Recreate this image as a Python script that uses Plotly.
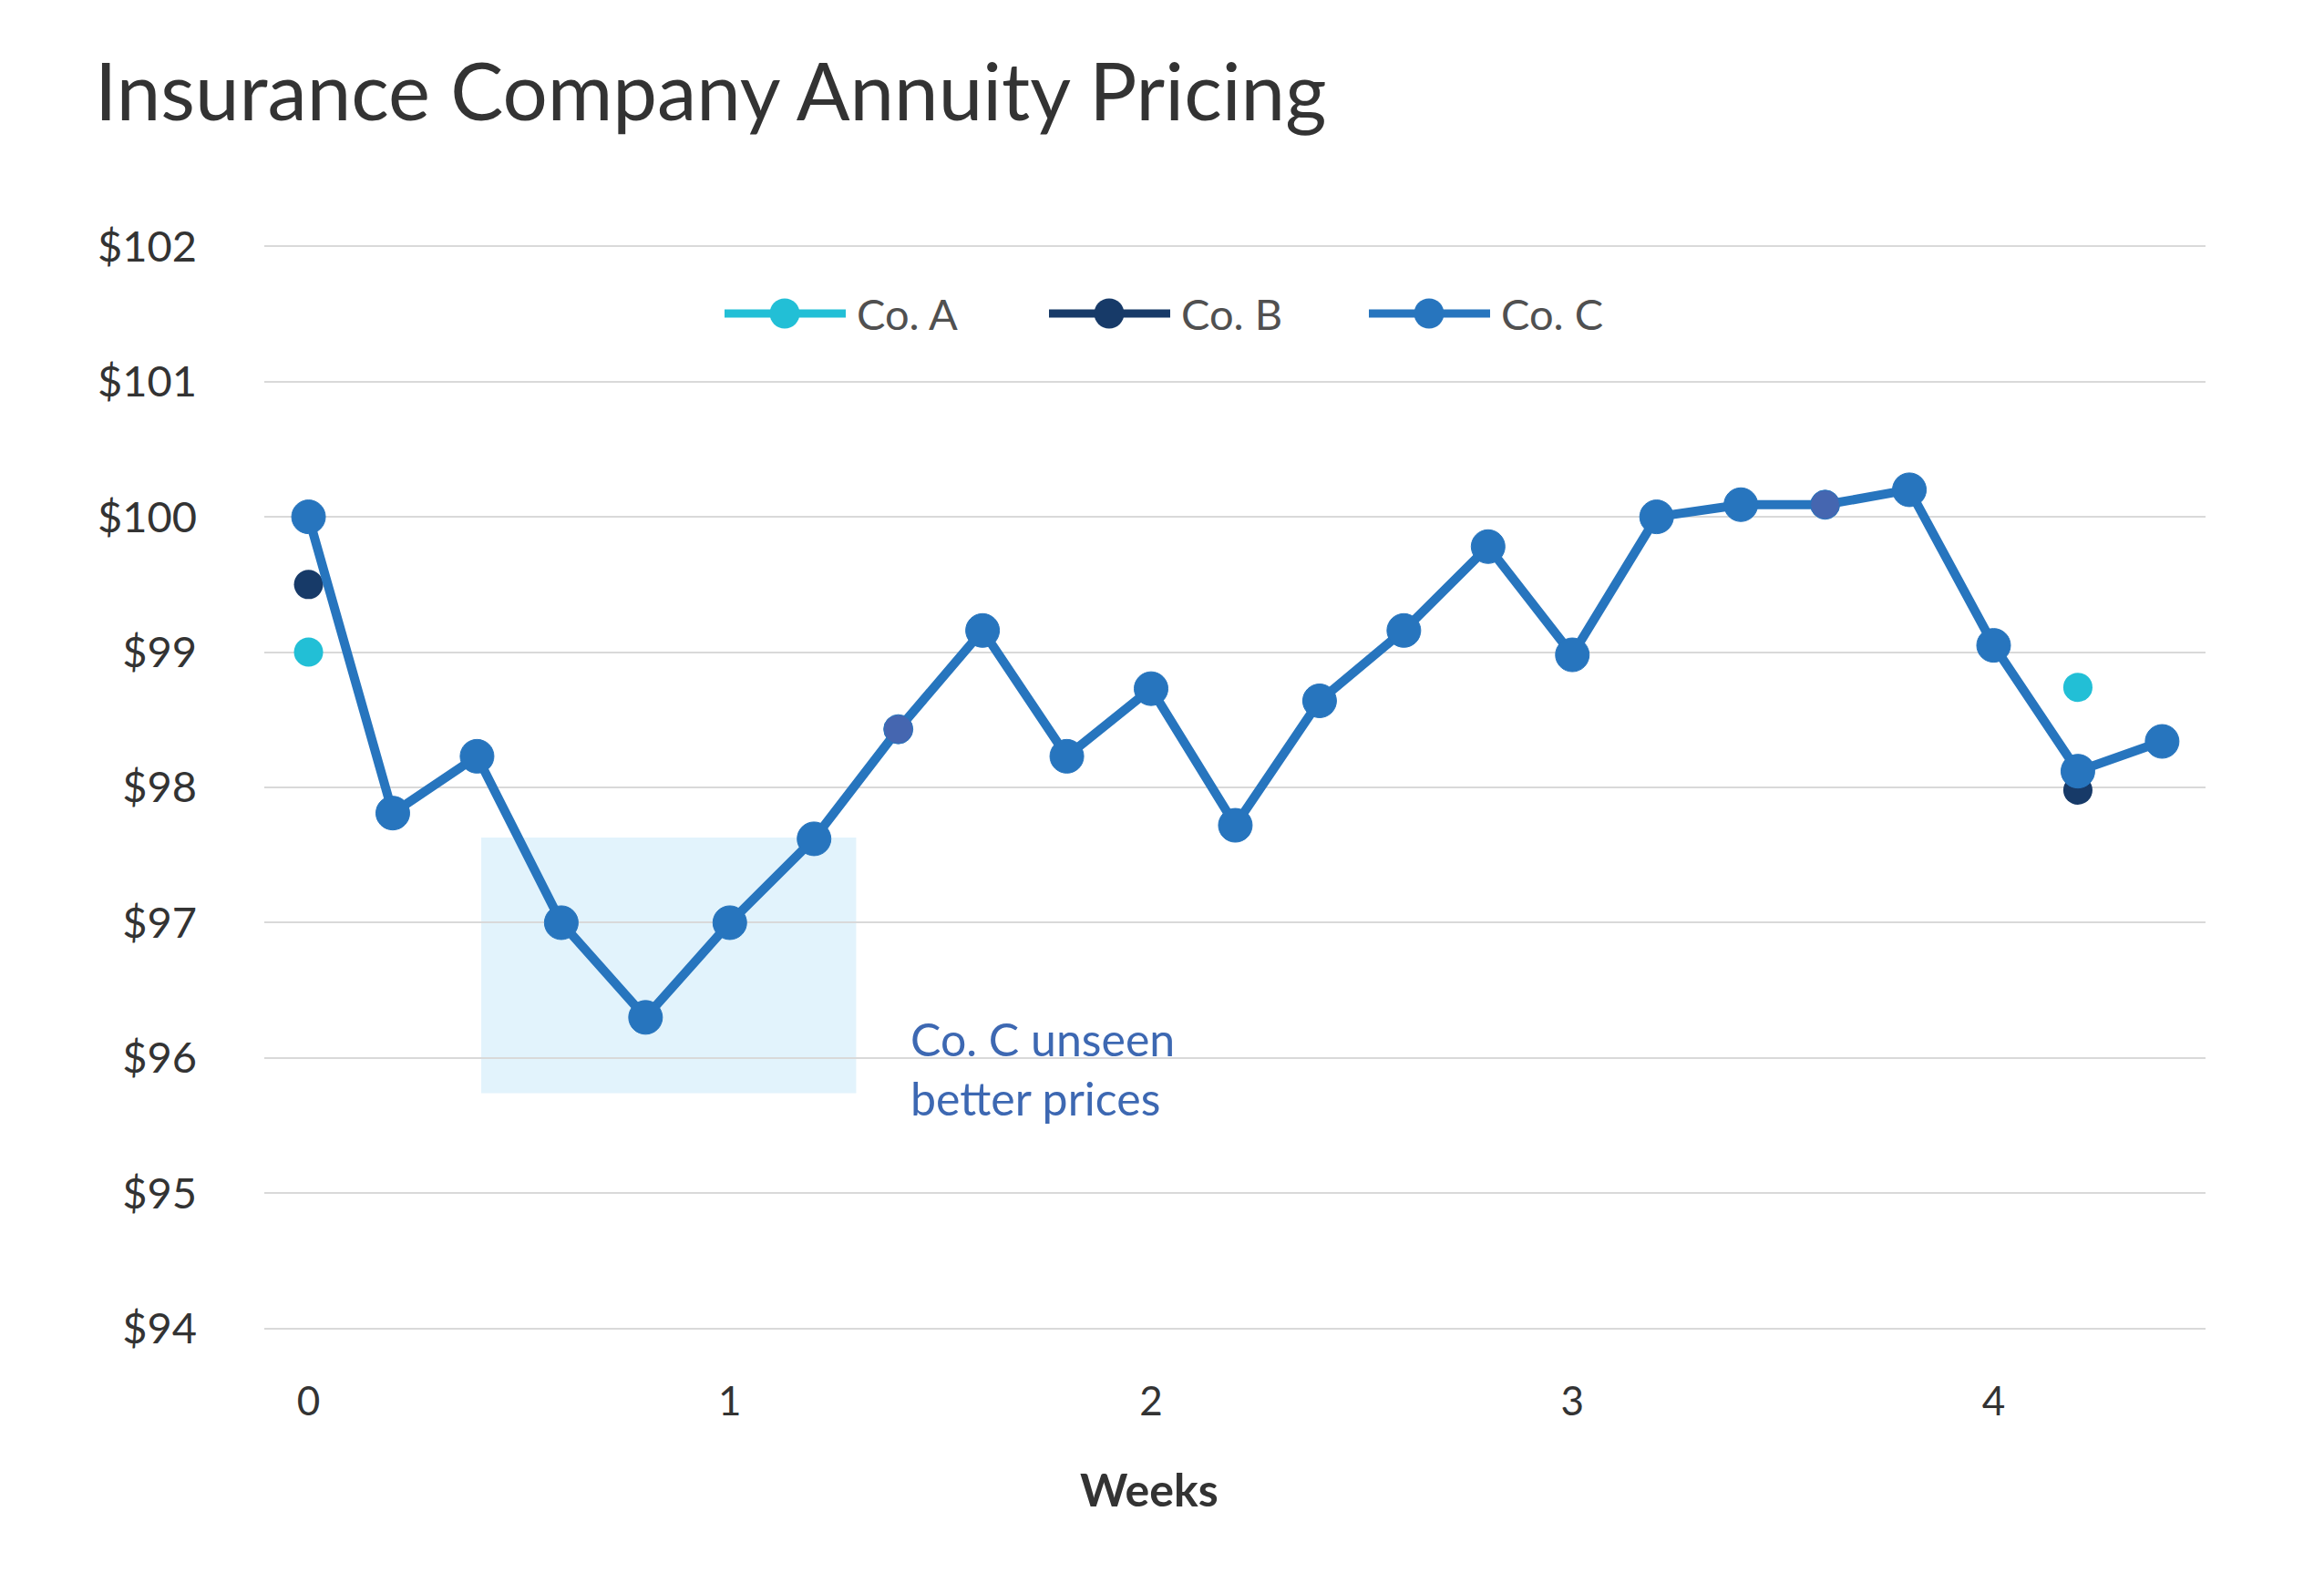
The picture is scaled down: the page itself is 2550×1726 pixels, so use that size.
import plotly.graph_objects as go

# ---------------- data ----------------
weeks = [0.0, 0.2, 0.4, 0.6, 0.8, 1.0, 1.2, 1.4, 1.6, 1.8, 2.0, 2.2,
         2.4, 2.6, 2.8, 3.0, 3.2, 3.4, 3.6, 3.8, 4.0, 4.2, 4.4]
co_c = [100.0, 97.81, 98.23, 97.0, 96.3, 97.0, 97.62, 98.43, 99.16, 98.23, 98.73, 97.72,
        98.64, 99.16, 99.78, 98.98, 100.0, 100.09, 100.09, 100.2, 99.05, 98.12, 98.34]
co_a_weeks = [0.0, 4.2]
co_a = [99.0, 98.74]
co_b_weeks = [0.0, 4.2]
co_b = [99.5, 97.98]
highlight_weeks = [1.4, 3.6]          # markers drawn in a different shade
shade_weeks = [0.41, 1.30]            # "unseen better prices" window
shade_prices = [95.74, 97.63]
y_ticks = [94, 95, 96, 97, 98, 99, 100, 101, 102]
y_tick_labels = ["$" + str(v) for v in y_ticks]
x_ticks = [0, 1, 2, 3, 4]
series_names = ["Co. A", "Co. B", "Co. C"]

# ---------------- style ----------------
W, H = 2550, 1726
ML, MR, MT, MB = 290, 130, 268, 266
C_A, C_B, C_C, C_HI = "#22BFD6", "#173A68", "#2775BE", "#4566B0"
FONT = "Lato"

def px_to_paper(px, py):
    return (px - ML) / (W - ML - MR), (H - MB - py) / (H - MT - MB)

marker_colors = [C_HI if w in highlight_weeks else C_C for w in weeks]
marker_sizes = [32 if w in highlight_weeks else 37 for w in weeks]

fig = go.Figure()
fig.add_trace(go.Scatter(x=co_b_weeks, y=co_b, name=series_names[1], mode="markers",
                         marker=dict(color=C_B, size=32, opacity=1), cliponaxis=False,
                         showlegend=False))
fig.add_trace(go.Scatter(x=co_a_weeks, y=co_a, name=series_names[0], mode="markers",
                         marker=dict(color=C_A, size=32, opacity=1), cliponaxis=False,
                         showlegend=False))
fig.add_trace(go.Scatter(x=weeks, y=co_c, name=series_names[2], mode="lines+markers",
                         line=dict(color=C_C, width=10),
                         marker=dict(color=marker_colors, size=marker_sizes, opacity=1),
                         cliponaxis=False, showlegend=False))

shapes = [dict(type="rect", xref="x", yref="y", x0=shade_weeks[0], x1=shade_weeks[1],
               y0=shade_prices[0], y1=shade_prices[1], fillcolor="#E2F3FC",
               line=dict(width=0), layer="below")]
annotations = []

# custom legend (line + dot + label)
legend_starts = [795, 1151, 1502]
legend_y = 344
for name, col, sx in zip(series_names, [C_A, C_B, C_C], legend_starts):
    x0, yy = px_to_paper(sx, legend_y)
    x1, _ = px_to_paper(sx + 133, legend_y)
    xm, _ = px_to_paper(sx + 66, legend_y)
    shapes.append(dict(type="line", xref="paper", yref="paper", x0=x0, x1=x1, y0=yy, y1=yy,
                       line=dict(color=col, width=9)))
    shapes.append(dict(type="circle", xref="paper", yref="paper", xsizemode="pixel",
                       ysizemode="pixel", xanchor=xm, yanchor=yy, x0=-16.5, x1=16.5,
                       y0=-16.5, y1=16.5, fillcolor=col, line=dict(width=0)))
    tx, _ = px_to_paper(sx + 143, legend_y)
    annotations.append(dict(text=name, xref="paper", yref="paper", x=tx, y=yy,
                            xanchor="left", yanchor="middle", showarrow=False,
                            font=dict(family=FONT, size=47, color="#505050")))

annotations.append(dict(text="Co. C unseen<br>better prices", xref="x", yref="y",
                        x=1.425, y=95.925, xanchor="left", yanchor="middle", align="left",
                        showarrow=False, font=dict(family=FONT, size=50, color="#3D68B2")))
annotations.append(dict(text="<b>Weeks</b>", xref="x", yref="paper", x=1.995,
                        y=px_to_paper(0, 1634)[1], xanchor="center", yanchor="middle",
                        showarrow=False, font=dict(family=FONT, size=50, color="#333333")))

fig.update_layout(
    width=W, height=H,
    margin=dict(l=ML, r=MR, t=MT, b=MB, autoexpand=False),
    paper_bgcolor="white", plot_bgcolor="white",
    title=dict(text="Insurance Company Annuity Pricing", x=104 / W, xanchor="left",
               xref="container", yref="container", y=1 - 102 / H, yanchor="middle",
               font=dict(family=FONT, size=87, color="#333333")),
    xaxis=dict(range=[-0.105, 4.503], tickvals=x_ticks, showgrid=False, zeroline=False,
               showline=False, ticks="", ticklabelstandoff=48,
               tickfont=dict(family=FONT, size=44, color="#333333")),
    yaxis=dict(range=[93.985, 102.015], tickvals=y_ticks, ticktext=y_tick_labels,
               showgrid=True, gridcolor="#D9D9D9", gridwidth=2, zeroline=False,
               showline=False, ticks="", ticklabelstandoff=73,
               tickfont=dict(family=FONT, size=47, color="#333333")),
    shapes=shapes, annotations=annotations, showlegend=False,
)

fig.write_html("out.html", config={"displayModeBar": False},
               post_script="document.body.style.margin='0';")
